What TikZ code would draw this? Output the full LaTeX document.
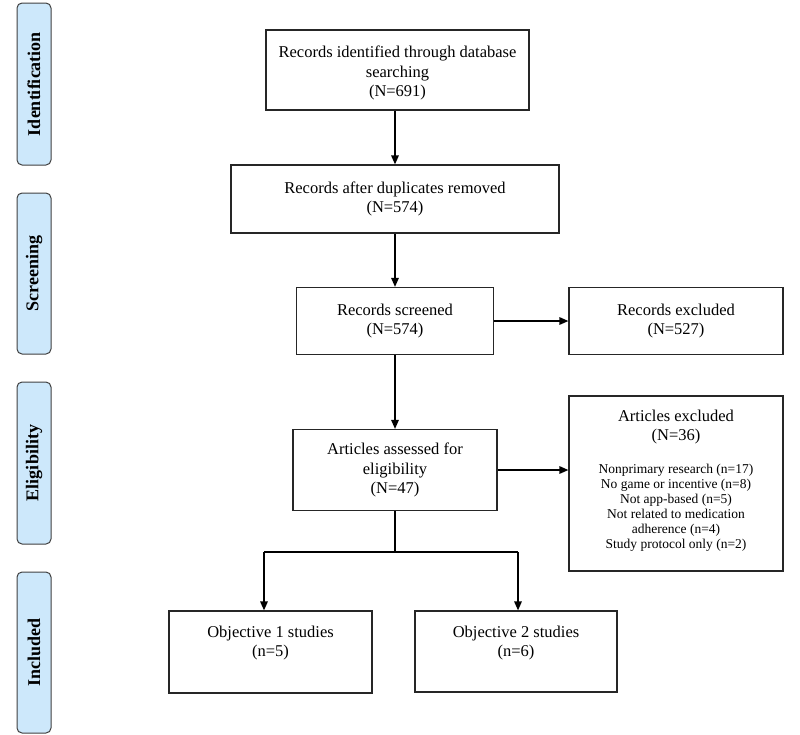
\documentclass[tikz,border=0pt]{standalone}
\usepackage{fontspec}
\setmainfont{Liberation Serif}
\usetikzlibrary{arrows.meta}
\definecolor{sideblue}{RGB}{205,232,251}
\begin{document}
\begin{tikzpicture}[x=1pt,y=-1pt,
  box/.style={draw=black!85, line width=1.2pt, rectangle, inner sep=0pt, align=center,
    font=\fontsize{16.5}{19.5}\selectfont},
  txt/.style={inner sep=0pt, align=center, font=\fontsize{16.5}{19.5}\selectfont},
  small/.style={inner sep=0pt, align=center, font=\fontsize{13.5}{15}\selectfont},
  side/.style={draw=black!75, fill=sideblue, line width=1pt, rounded corners=5pt,
    inner sep=0pt, minimum width=34pt},
  sidetxt/.style={rotate=90, inner sep=0pt, font=\bfseries\fontsize{18}{20}\selectfont},
  arr/.style={-{Triangle[length=9pt,width=7.5pt]}, line width=1.5pt},
  ln/.style={line width=1.3pt}]
\useasboundingbox (0,0) rectangle (800,734);

% side bars
\node[side, minimum height=162pt] (s1) at (34,84) {};
\node[sidetxt] (t1) at (s1.center) {Identification};
\node[side, minimum height=161pt] (s2) at (34,273.5) {};
\node[sidetxt] (t2) at (s2.center) {Screening};
\node[side, minimum height=162pt] (s3) at (34,463) {};
\node[sidetxt] (t3) at (s3.center) {Eligibility};
\node[side, minimum height=161pt] (s4) at (34,652.5) {};
\node[sidetxt] (t4) at (s4.center) {Included};

% boxes
\node[box, minimum width=263pt, minimum height=80pt] (id) at (397.5,70) {};
\node[txt] (idt) at (397.5,73) {Records identified through database\\searching\\(N=691)};
\node[box, minimum width=328pt, minimum height=68pt] (dup) at (395,199)
  {Records after duplicates removed\\(N=574)};
\node[box, minimum width=197pt, minimum height=67pt] (rs) at (395,321)
  {Records screened\\(N=574)};
\node[box, minimum width=214pt, minimum height=67pt] (rex) at (676,321)
  {Records excluded\\(N=527)};
\node[box, minimum width=204pt, minimum height=81pt] (aa) at (395,470)
  {Articles assessed for\\eligibility\\(N=47)};
\node[box, minimum width=214pt, minimum height=175pt] (ae) at (676,483.5) {};
\node[txt] (aeh) at (676,427) {Articles excluded\\(N=36)};
\node[small] (ael) at (676,508) {Nonprimary research (n=17)\\No game or incentive (n=8)\\Not app-based (n=5)\\Not related to medication\\adherence (n=4)\\Study protocol only (n=2)};
\node[box, minimum width=203pt, minimum height=82pt] (o1) at (270.5,652) {};
\node[txt] (o1t) at (270.5,643) {Objective 1 studies\\(n=5)};
\node[box, minimum width=202pt, minimum height=81pt] (o2) at (516,651.5) {};
\node[txt] (o2t) at (516,643) {Objective 2 studies\\(n=6)};

% connectors
\draw[arr] (id.south -| dup.north) -- (dup.north);
\draw[arr] (dup.south -| rs.north) -- (rs.north);
\draw[arr] (rs.east) -- (rex.west);
\draw[arr] (rs.south -| aa.north) -- (aa.north);
\draw[arr] (aa.east) -- (aa.east -| ae.west);
\coordinate (sp) at (395,552);
\coordinate (sl) at (264,552);
\coordinate (sr) at (518,552);
\draw[ln] (aa.south) -- (sp);
\draw[ln] (sl) -- (sr);
\draw[arr] (sl) -- (sl |- o1.north);
\draw[arr] (sr) -- (sr |- o2.north);
\end{tikzpicture}
\end{document}
